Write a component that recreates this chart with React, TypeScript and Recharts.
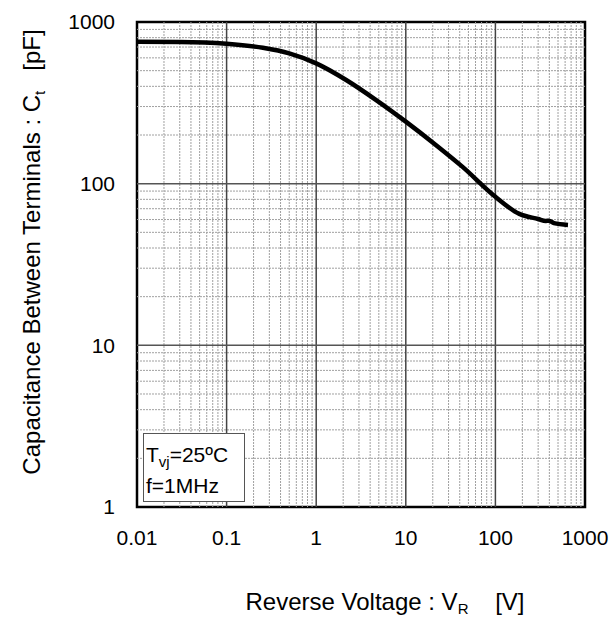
import React from 'react';
import {
  LineChart,
  Line,
  XAxis,
  YAxis,
  ReferenceLine,
  ReferenceArea,
  Label,
} from 'recharts';

// Ct vs VR
const voltage = [0.01, 0.03, 0.1, 0.254, 0.5, 1, 2.16, 4.67, 10, 21.8, 43, 100, 185, 300, 366, 395, 450, 646];
const capacitance = [755, 753, 734, 693, 640, 555, 438, 329, 242, 173, 127, 83, 65, 60.5, 58.8, 59, 57, 55.6];

const xTicks = [0.01, 0.1, 1, 10, 100, 1000];
const yTicks = [1, 10, 100, 1000];
const xDecades = [0.01, 0.1, 1, 10, 100];
const yDecades = [1, 10, 100];
const minorSteps = [2, 3, 4, 5, 6, 7, 8, 9];

const data = voltage.map((v, i) => ({ v, c: capacitance[i] }));
const xMinor = xDecades.flatMap((d) => minorSteps.map((m) => +(d * m).toPrecision(3)));
const yMinor = yDecades.flatMap((d) => minorSteps.map((m) => +(d * m).toPrecision(3)));
const xMajor = [0.1, 1, 10, 100];
const yMajor = [10, 100];

const FONT = '"Liberation Sans", Arial, sans-serif';

const fmt = (v: number) => (v < 1 ? String(v) : String(Math.round(v)));

export default function App() {
  return (
    <div style={{ position: 'absolute', left: 0, top: 0, width: 613, height: 619, background: '#fff' }}>
      <LineChart
        width={613}
        height={619}
        data={data}
        margin={{ top: 22, right: 28, left: 0, bottom: 0 }}
      >
        <XAxis
          dataKey="v"
          type="number"
          scale="log"
          domain={[0.01, 1000]}
          ticks={xTicks}
          tickFormatter={fmt}
          allowDataOverflow
          axisLine={false}
          tickLine={false}
          tickMargin={17}
          height={112}
          tick={{ fill: '#000', fontSize: 21, fontFamily: FONT }}
        >
          <Label
            content={(props: any) => {
              const vb = props.viewBox;
              return (
                <text x={385} y={vb.y + 103} textAnchor="middle" fontSize={24} fontFamily={FONT} fill="#000">
                  Reverse Voltage : V
                  <tspan fontSize={15} dy={4}>R</tspan>
                  <tspan dy={-4} xmlSpace="preserve">{'    [V]'}</tspan>
                </text>
              );
            }}
          />
        </XAxis>
        <YAxis
          type="number"
          scale="log"
          domain={[1, 1000]}
          ticks={yTicks}
          allowDataOverflow
          axisLine={false}
          tickLine={false}
          tickMargin={16}
          width={137}
          tick={{ fill: '#000', fontSize: 21, fontFamily: FONT }}
        >
          <Label
            content={() => (
              <text
                x={0}
                y={0}
                transform="translate(40,252) rotate(-90)"
                textAnchor="middle"
                fontSize={24}
                fontFamily={FONT}
                fill="#000"
              >
                Capacitance Between Terminals : C
                <tspan fontSize={15} dy={5}>t</tspan>
                <tspan dy={-5} xmlSpace="preserve">{'   [pF]'}</tspan>
              </text>
            )}
          />
        </YAxis>
        {xMinor.map((x) => (
          <ReferenceLine key={'xm' + x} x={x} stroke="#a0a0a0" strokeWidth={1} strokeDasharray="2 1" />
        ))}
        {yMinor.map((y) => (
          <ReferenceLine key={'ym' + y} y={y} stroke="#a0a0a0" strokeWidth={1} strokeDasharray="2 1" />
        ))}
        {xMajor.map((x) => (
          <ReferenceLine key={'xM' + x} x={x} stroke="#444" strokeWidth={1.5} />
        ))}
        {yMajor.map((y) => (
          <ReferenceLine key={'yM' + y} y={y} stroke="#555" strokeWidth={1.5} />
        ))}
        <ReferenceArea x1={0.01} x2={1000} y1={1} y2={1000} fill="none" stroke="#000" strokeWidth={2.5} />
        <Line
          type="monotone"
          dataKey="c"
          stroke="#000"
          strokeWidth={4.5}
          dot={false}
          isAnimationActive={false}
        />
      </LineChart>
      <div
        style={{
          position: 'absolute',
          left: 143,
          top: 433,
          width: 102,
          height: 69,
          border: '1px solid #555',
          background: '#fff',
          fontFamily: FONT,
          fontSize: 21,
          lineHeight: '29px',
          color: '#000',
          padding: '6px 0 0 2px',
          boxSizing: 'border-box',
          whiteSpace: 'nowrap',
        }}
      >
        <div>
          T<span style={{ fontSize: 15, position: 'relative', top: 5 }}>vj</span>=25ºC
        </div>
        <div>f=1MHz</div>
      </div>
    </div>
  );
}
